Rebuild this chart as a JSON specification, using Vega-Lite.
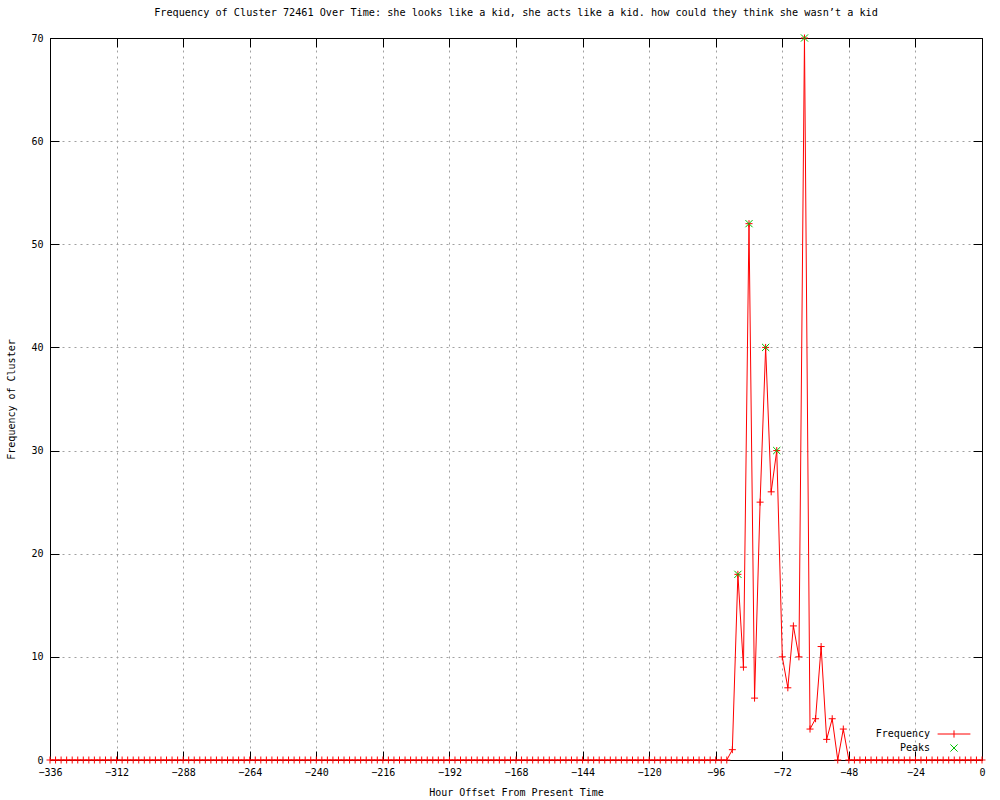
{
  "$schema": "https://vega.github.io/schema/vega-lite/v6.json",
  "width": 932,
  "height": 722,
  "autosize": "none",
  "padding": {"left": 50, "top": 38, "right": 18, "bottom": 40},
  "background": "white",
  "title": {"text": "Frequency of Cluster 72461 Over Time: she looks like a kid, she acts like a kid. how could they think she wasn’t a kid", "font": "DejaVu Sans Mono", "fontSize": 10.2, "fontWeight": "normal", "color": "black", "anchor": "middle", "offset": 14},
  "config": {
    "view": {"stroke": "black", "strokeWidth": 1},
    "axis": {"labelFont": "DejaVu Sans Mono", "labelFontSize": 10, "labelColor": "black", "titleFont": "DejaVu Sans Mono", "titleFontSize": 10, "titleFontWeight": "normal", "titleColor": "black", "domain": true, "domainColor": "black", "domainWidth": 1, "tickColor": "black", "tickSize": -9, "gridColor": "#a0a0a0", "gridDash": [2, 4], "gridWidth": 1},
    "legend": {"orient": "none", "legendX": 899, "legendY": 691, "labelFont": "DejaVu Sans Mono", "labelFontSize": 10, "labelColor": "black", "labelAlign": "right", "labelOffset": -29, "symbolSize": 64, "symbolStrokeWidth": 1, "rowPadding": 2, "title": null, "padding": 0}
  },
  "datasets": {
    "freq": [
      {"hour": -336, "count": 0}, {"hour": -334, "count": 0}, {"hour": -332, "count": 0}, {"hour": -330, "count": 0}, {"hour": -328, "count": 0}, {"hour": -326, "count": 0}, {"hour": -324, "count": 0}, {"hour": -322, "count": 0}, {"hour": -320, "count": 0}, {"hour": -318, "count": 0}, {"hour": -316, "count": 0}, {"hour": -314, "count": 0}, {"hour": -312, "count": 0}, {"hour": -310, "count": 0}, {"hour": -308, "count": 0}, {"hour": -306, "count": 0}, {"hour": -304, "count": 0}, {"hour": -302, "count": 0}, {"hour": -300, "count": 0}, {"hour": -298, "count": 0}, {"hour": -296, "count": 0}, {"hour": -294, "count": 0}, {"hour": -292, "count": 0}, {"hour": -290, "count": 0}, {"hour": -288, "count": 0}, {"hour": -286, "count": 0}, {"hour": -284, "count": 0}, {"hour": -282, "count": 0}, {"hour": -280, "count": 0}, {"hour": -278, "count": 0}, {"hour": -276, "count": 0}, {"hour": -274, "count": 0}, {"hour": -272, "count": 0}, {"hour": -270, "count": 0}, {"hour": -268, "count": 0}, {"hour": -266, "count": 0}, {"hour": -264, "count": 0}, {"hour": -262, "count": 0}, {"hour": -260, "count": 0}, {"hour": -258, "count": 0}, {"hour": -256, "count": 0}, {"hour": -254, "count": 0}, {"hour": -252, "count": 0}, {"hour": -250, "count": 0}, {"hour": -248, "count": 0}, {"hour": -246, "count": 0}, {"hour": -244, "count": 0}, {"hour": -242, "count": 0}, {"hour": -240, "count": 0}, {"hour": -238, "count": 0}, {"hour": -236, "count": 0}, {"hour": -234, "count": 0}, {"hour": -232, "count": 0}, {"hour": -230, "count": 0}, {"hour": -228, "count": 0}, {"hour": -226, "count": 0}, {"hour": -224, "count": 0}, {"hour": -222, "count": 0}, {"hour": -220, "count": 0}, {"hour": -218, "count": 0}, {"hour": -216, "count": 0}, {"hour": -214, "count": 0}, {"hour": -212, "count": 0}, {"hour": -210, "count": 0}, {"hour": -208, "count": 0}, {"hour": -206, "count": 0}, {"hour": -204, "count": 0}, {"hour": -202, "count": 0}, {"hour": -200, "count": 0}, {"hour": -198, "count": 0}, {"hour": -196, "count": 0}, {"hour": -194, "count": 0}, {"hour": -192, "count": 0}, {"hour": -190, "count": 0}, {"hour": -188, "count": 0}, {"hour": -186, "count": 0}, {"hour": -184, "count": 0}, {"hour": -182, "count": 0}, {"hour": -180, "count": 0}, {"hour": -178, "count": 0}, {"hour": -176, "count": 0}, {"hour": -174, "count": 0}, {"hour": -172, "count": 0}, {"hour": -170, "count": 0}, {"hour": -168, "count": 0}, {"hour": -166, "count": 0}, {"hour": -164, "count": 0}, {"hour": -162, "count": 0}, {"hour": -160, "count": 0}, {"hour": -158, "count": 0}, {"hour": -156, "count": 0}, {"hour": -154, "count": 0}, {"hour": -152, "count": 0}, {"hour": -150, "count": 0}, {"hour": -148, "count": 0}, {"hour": -146, "count": 0}, {"hour": -144, "count": 0}, {"hour": -142, "count": 0}, {"hour": -140, "count": 0}, {"hour": -138, "count": 0}, {"hour": -136, "count": 0}, {"hour": -134, "count": 0}, {"hour": -132, "count": 0}, {"hour": -130, "count": 0}, {"hour": -128, "count": 0}, {"hour": -126, "count": 0}, {"hour": -124, "count": 0}, {"hour": -122, "count": 0}, {"hour": -120, "count": 0}, {"hour": -118, "count": 0}, {"hour": -116, "count": 0}, {"hour": -114, "count": 0}, {"hour": -112, "count": 0}, {"hour": -110, "count": 0}, {"hour": -108, "count": 0}, {"hour": -106, "count": 0}, {"hour": -104, "count": 0}, {"hour": -102, "count": 0}, {"hour": -100, "count": 0}, {"hour": -98, "count": 0}, {"hour": -96, "count": 0}, {"hour": -94, "count": 0}, {"hour": -92, "count": 0},
      {"hour": -90, "count": 1}, {"hour": -88, "count": 18}, {"hour": -86, "count": 9}, {"hour": -84, "count": 52}, {"hour": -82, "count": 6}, {"hour": -80, "count": 25}, {"hour": -78, "count": 40}, {"hour": -76, "count": 26}, {"hour": -74, "count": 30}, {"hour": -72, "count": 10}, {"hour": -70, "count": 7}, {"hour": -68, "count": 13}, {"hour": -66, "count": 10}, {"hour": -64, "count": 70}, {"hour": -62, "count": 3}, {"hour": -60, "count": 4}, {"hour": -58, "count": 11}, {"hour": -56, "count": 2}, {"hour": -54, "count": 4}, {"hour": -52, "count": 0}, {"hour": -50, "count": 3}, {"hour": -48, "count": 0},
      {"hour": -46, "count": 0}, {"hour": -44, "count": 0}, {"hour": -42, "count": 0}, {"hour": -40, "count": 0}, {"hour": -38, "count": 0}, {"hour": -36, "count": 0}, {"hour": -34, "count": 0}, {"hour": -32, "count": 0}, {"hour": -30, "count": 0}, {"hour": -28, "count": 0}, {"hour": -26, "count": 0}, {"hour": -24, "count": 0}, {"hour": -22, "count": 0}, {"hour": -20, "count": 0}, {"hour": -18, "count": 0}, {"hour": -16, "count": 0}, {"hour": -14, "count": 0}, {"hour": -12, "count": 0}, {"hour": -10, "count": 0}, {"hour": -8, "count": 0}, {"hour": -6, "count": 0}, {"hour": -4, "count": 0}, {"hour": -2, "count": 0}, {"hour": 0, "count": 0}
    ],
    "peaks": [
      {"hour": -88, "count": 18, "series": "Peaks"},
      {"hour": -84, "count": 52, "series": "Peaks"},
      {"hour": -78, "count": 40, "series": "Peaks"},
      {"hour": -74, "count": 30, "series": "Peaks"},
      {"hour": -64, "count": 70, "series": "Peaks"}
    ]
  },
  "layer": [
    {
      "data": {"name": "freq"},
      "mark": {"type": "line", "color": "#ff0000", "strokeWidth": 1},
      "encoding": {
        "x": {"field": "hour", "type": "quantitative", "scale": {"domain": [-336, 0], "nice": false, "zero": false}, "axis": {"title": "Hour Offset From Present Time", "values": [-336, -312, -288, -264, -240, -216, -192, -168, -144, -120, -96, -72, -48, -24, 0], "labelPadding": 16, "titlePadding": 10, "labelFlush": false}},
        "y": {"field": "count", "type": "quantitative", "scale": {"domain": [0, 70], "nice": false}, "axis": {"title": "Frequency of Cluster", "values": [0, 10, 20, 30, 40, 50, 60, 70], "labelPadding": 16, "titlePadding": 14}}
      }
    },
    {
      "data": {"name": "freq"},
      "mark": {"type": "point", "shape": "M-1,0H1M0,-1V1", "size": 49, "filled": false, "stroke": "#ff0000", "strokeWidth": 1, "opacity": 1},
      "encoding": {
        "x": {"field": "hour", "type": "quantitative", "axis": null},
        "y": {"field": "count", "type": "quantitative", "axis": null}
      }
    },
    {
      "data": {"name": "peaks"},
      "mark": {"type": "point", "size": 64, "filled": false, "strokeWidth": 1, "opacity": 1},
      "encoding": {
        "x": {"field": "hour", "type": "quantitative", "axis": null},
        "y": {"field": "count", "type": "quantitative", "axis": null},
        "color": {"field": "series", "type": "nominal", "scale": {"domain": ["Frequency", "Peaks"], "range": ["#ff0000", "#00c000"]}},
        "shape": {"field": "series", "type": "nominal", "scale": {"domain": ["Frequency", "Peaks"], "range": ["M-4.1,0H4.1M0,-0.9V0.9", "M-0.9,-0.9L0.9,0.9M-0.9,0.9L0.9,-0.9"]}}
      }
    },
    {
      "data": {"name": "freq"},
      "mark": {"type": "point", "opacity": 0},
      "encoding": {
        "x": {"field": "hour", "type": "quantitative", "axis": {"orient": "top", "labels": false, "grid": false, "title": null, "values": [-336, -312, -288, -264, -240, -216, -192, -168, -144, -120, -96, -72, -48, -24, 0]}},
        "y": {"field": "count", "type": "quantitative", "axis": {"orient": "right", "labels": false, "grid": false, "title": null, "values": [0, 10, 20, 30, 40, 50, 60, 70]}}
      }
    }
  ],
  "resolve": {"axis": {"x": "independent", "y": "independent"}}
}
